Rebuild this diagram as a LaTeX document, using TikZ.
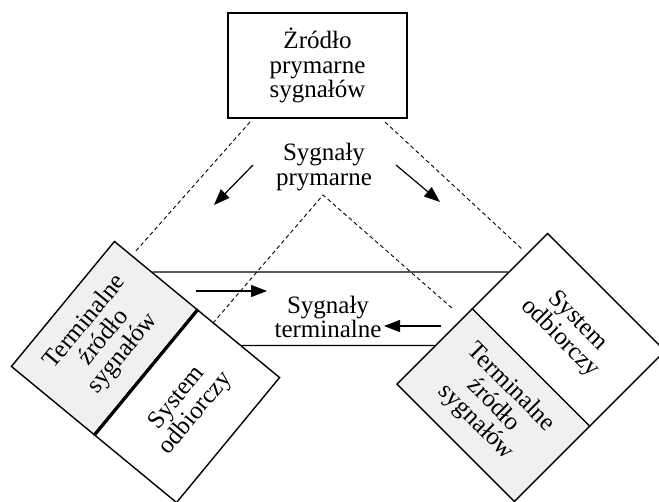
\documentclass[tikz,border=0pt]{standalone}
\usepackage{fontspec}
\setmainfont{Liberation Serif}
\usetikzlibrary{arrows.meta,calc}
\begin{document}
\begin{tikzpicture}[x=1pt,y=1pt,
  lbl/.style={font=\fontsize{25}{24.5}\selectfont, align=center},
  half/.style={draw, line width=1.4pt, minimum height=107pt, inner sep=0pt, lbl},
  shaded/.style={half, fill=black!6},
  guide/.style={line width=0.9pt, dash pattern=on 4pt off 3pt},
  link/.style={line width=1.2pt},
  sig/.style={line width=1.2pt, -{Triangle[length=16pt,width=12pt]}}
]
\clip (0,0) rectangle (659,501);

% dashed projection lines
\coordinate (d1) at (250,379);
\coordinate (d2) at (135,249);
\coordinate (d3) at (385,379);
\coordinate (d4) at (523,251);
\coordinate (apex) at (323,306);
\coordinate (d5) at (213,178);
\coordinate (d6) at (453,192);
\draw[guide] (d1) -- (d2);
\draw[guide] (d3) -- (d4);
\draw[guide] (d5) -- (apex) -- (d6);

% primary source
\node[draw, line width=1.8pt, minimum width=179pt, minimum height=105pt, lbl]
  (prim) at (317.5,435.5) {Żródło\\prymarne\\sygnałów};

% left terminal unit
\coordinate (LC) at (145.5,129);
\node[shaded, rotate=50.5, minimum width=162pt] (Lsrc)
  at ($(LC)+(-39.5:-53.5)$) {Terminalne\\źródło\\sygnałów};
\node[half, rotate=50.5, minimum width=162pt] (Lsys)
  at ($(LC)+(-39.5:53.5)$) {System\\odbiorczy};
\draw[line width=3.2pt] (Lsrc.south west) -- (Lsrc.south east);

% right terminal unit
\coordinate (RC) at (531,133.5);
\node[half, rotate=-45, minimum width=166pt, minimum height=106.5pt] (Rsys)
  at ($(RC)+(45:53.25)$) {System\\odbiorczy};
\node[shaded, rotate=-45, minimum width=166pt, minimum height=106.5pt] (Rsrc)
  at ($(RC)+(45:-53.25)$) {Terminalne\\źródło\\sygnałów};

% terminal signal channel
\coordinate (t1) at (intersection of Lsrc.north east--Lsrc.south east and 0,229--659,229);
\coordinate (t2) at (intersection of Rsys.north west--Rsys.south west and 0,229--659,229);
\coordinate (b1) at (intersection of Lsys.north east--Lsys.south east and 0,155.5--659,155.5);
\coordinate (b2) at (intersection of Rsrc.north west--Rsrc.south west and 0,155.5--659,155.5);
\draw[link] (t1) -- (t2);
\draw[link] (b1) -- (b2);

% labels
\node[lbl] (ps) at (324,334) {Sygnały\\prymarne};
\node[lbl] (ts) at (328,184) {Sygnały\\terminalne};

% signal arrows
\coordinate (a1) at (253,336); \coordinate (a2) at (214,296);
\coordinate (a3) at (396,336); \coordinate (a4) at (440,299);
\coordinate (a5) at (196,210); \coordinate (a6) at (267,210);
\coordinate (a7) at (441,175); \coordinate (a8) at (384,175);
\draw[sig] (a1) -- (a2);
\draw[sig] (a3) -- (a4);
\draw[sig] (a5) -- (a6);
\draw[sig] (a7) -- (a8);
\end{tikzpicture}
\end{document}
